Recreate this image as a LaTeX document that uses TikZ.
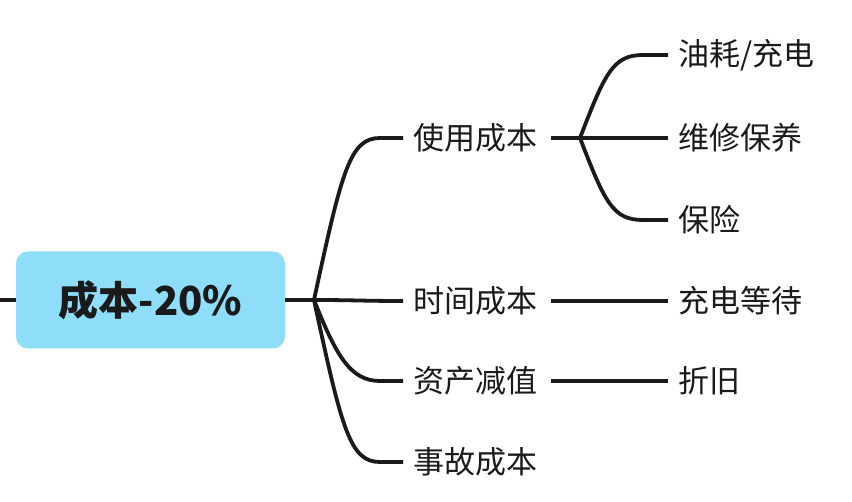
\documentclass[tikz,border=0pt]{standalone}
\usepackage{fontspec}
\setmainfont{Noto Sans CJK SC}
\usetikzlibrary{positioning}
\definecolor{rootblue}{HTML}{8EDDF9}
\definecolor{ink}{HTML}{1A1A1A}

\begin{document}
\begin{tikzpicture}[x=1pt,y=-1pt]
  \tikzstyle{root}=[fill=rootblue,rounded corners=12pt,minimum width=269pt,minimum height=97pt,text=ink,font=\fontsize{40}{46}\selectfont\bfseries]
  \tikzstyle{topic}=[anchor=west,inner xsep=10pt,inner ysep=0pt,text=ink,font=\fontsize{31}{36}\selectfont]
  \tikzstyle{branch}=[draw=ink,line width=3.8pt]

  \useasboundingbox (0,0) rectangle (852,502);

  \node[root] (cost) at (150.5,300) {成本-20\%};
  \coordinate (in) at (0,300);
  \coordinate (hub) at (314,300);

  \node[topic] (use) at (403,138) {使用成本};
  \node[topic] (time) at (403,301) {时间成本};
  \node[topic] (asset) at (403,381) {资产减值};
  \node[topic] (crash) at (403,462) {事故成本};

  \coordinate (usehub) at (580,138);
  \node[topic] (fuel) at (668,55) {油耗/充电};
  \node[topic] (repair) at (668,138) {维修保养};
  \node[topic] (insure) at (668,220) {保险};
  \node[topic] (wait) at (668,301) {充电等待};
  \node[topic] (depr) at (668,381) {折旧};

  % root
  \draw[branch] (in) -- (cost.west);
  \draw[branch] (cost.east) -- (hub);

  % first level
  \draw[branch] (hub) .. controls +(28,-130) and +(-30,0) .. ([xshift=-23pt]use.west) -- (use.west);
  \draw[branch] (hub) .. controls +(40,0) and +(-40,0) .. (time.west);
  \draw[branch] (hub) .. controls +(22,55) and +(-30,0) .. ([xshift=-23pt]asset.west) -- (asset.west);
  \draw[branch] (hub) .. controls +(28,130) and +(-30,0) .. ([xshift=-23pt]crash.west) -- (crash.west);

  % second level
  \draw[branch] ([xshift=4pt]use.east) -- (usehub);
  \draw[branch] (usehub) .. controls +(25,-65) and +(-30,0) .. ([xshift=-25pt]fuel.west) -- (fuel.west);
  \draw[branch] (usehub) -- (repair.west);
  \draw[branch] (usehub) .. controls +(25,65) and +(-30,0) .. ([xshift=-25pt]insure.west) -- (insure.west);
  \draw[branch] ([xshift=4pt]time.east) -- (wait.west);
  \draw[branch] ([xshift=4pt]asset.east) -- (depr.west);
\end{tikzpicture}
\end{document}
